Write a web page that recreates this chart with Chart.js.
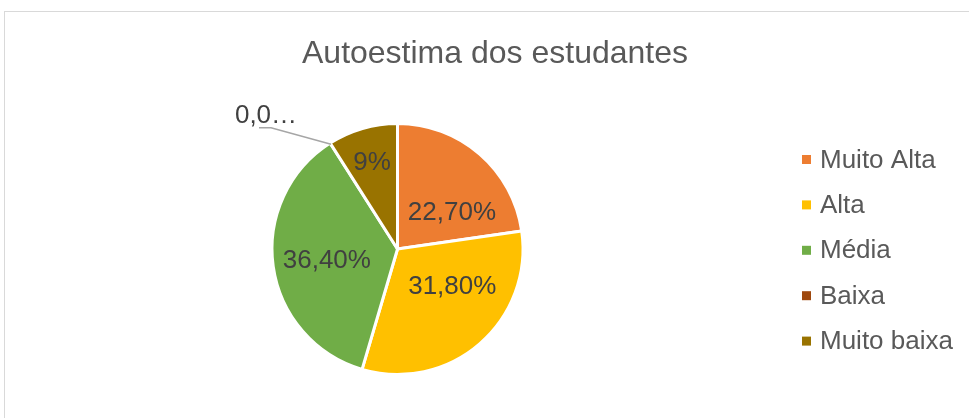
<!DOCTYPE html>
<html>
<head>
<meta charset="utf-8">
<script src="https://cdn.jsdelivr.net/npm/chart.js@4/dist/chart.umd.min.js"></script>
<style>
  html, body { margin: 0; padding: 0; background: #fff; overflow: hidden; }
  #frame { position: absolute; left: 4px; top: 11px; width: 1000px; height: 500px; border: 1px solid #d9d9d9; }
  #chart { position: absolute; left: 0; top: 0; }
</style>
</head>
<body>
<div id="frame"></div>
<canvas id="chart" width="969" height="418"></canvas>
<script>
const chartTitle = 'Autoestima dos estudantes';
const categories = ['Muito Alta', 'Alta', 'Média', 'Baixa', 'Muito baixa'];
const values = [22.7, 31.8, 36.4, 0, 9];
const valueLabels = ['22,70%', '31,80%', '36,40%', '0,0…', '9%'];
const colors = ['#ED7D31', '#FFC000', '#70AD47', '#9E480E', '#997300'];

const FONT = '"Liberation Sans", Arial, sans-serif';

// data labels inside the slices, zero slice gets a callout
const sliceLabels = {
  id: 'sliceLabels',
  afterDatasetsDraw(chart, args, opts) {
    const ctx = chart.ctx;
    const arcs = chart.getDatasetMeta(0).data;
    ctx.save();
    ctx.font = '26px ' + FONT;
    ctx.fillStyle = '#404040';
    ctx.textAlign = 'center';
    ctx.textBaseline = 'middle';
    arcs.forEach((arc, i) => {
      const p = arc.getProps(['x', 'y', 'startAngle', 'endAngle', 'outerRadius'], true);
      if (values[i] === 0) {
        const r = p.outerRadius - 1.5;
        const px = p.x + Math.cos(p.startAngle) * r;
        const py = p.y + Math.sin(p.startAngle) * r;
        ctx.strokeStyle = '#a6a6a6';
        ctx.lineWidth = 1.5;
        ctx.beginPath();
        ctx.moveTo(px, py);
        ctx.lineTo(px - 60, py - 16.5);
        ctx.lineTo(px - 72, py - 16.5);
        ctx.stroke();
        ctx.fillText(valueLabels[i], px - 65, py - 29);
        return;
      }
      const a = (p.startAngle + p.endAngle) / 2 + opts.shift[i] * Math.PI / 180;
      const r = p.outerRadius * opts.dist[i];
      ctx.fillText(valueLabels[i], p.x + Math.cos(a) * r, p.y + Math.sin(a) * r + 1);
    });
    ctx.restore();
  }
};

// title and legend drawn like the office chart
const frameText = {
  id: 'frameText',
  afterDraw(chart, args, opts) {
    const ctx = chart.ctx;
    ctx.save();
    ctx.fillStyle = '#595959';
    ctx.font = '32px ' + FONT;
    ctx.textAlign = 'center';
    ctx.textBaseline = 'middle';
    ctx.fillText(chartTitle, 495, 54);

    ctx.font = '26px ' + FONT;
    ctx.textAlign = 'left';
    categories.forEach((c, i) => {
      const cy = 159.5 + i * 45.4;
      ctx.fillStyle = colors[i];
      ctx.fillRect(802, cy - 4.5, 9, 9);
      ctx.fillStyle = '#595959';
      ctx.fillText(c, 820, cy + 1);
    });
    ctx.restore();
  }
};

new Chart(document.getElementById('chart'), {
  type: 'pie',
  data: {
    labels: categories,
    datasets: [{
      data: values,
      backgroundColor: colors,
      borderColor: '#ffffff',
      borderWidth: 3
    }]
  },
  options: {
    responsive: false,
    animation: false,
    radius: 125.5,
    layout: { padding: { left: 21, right: 195, top: 124, bottom: 44 } },
    plugins: {
      legend: { display: false },
      title: { display: false },
      tooltip: { enabled: false },
      sliceLabels: {
        shift: [15, -15, -1, 0, 0],
        dist: [0.524, 0.527, 0.57, 0, 0.725]
      }
    }
  },
  plugins: [sliceLabels, frameText]
});
</script>
</body>
</html>
